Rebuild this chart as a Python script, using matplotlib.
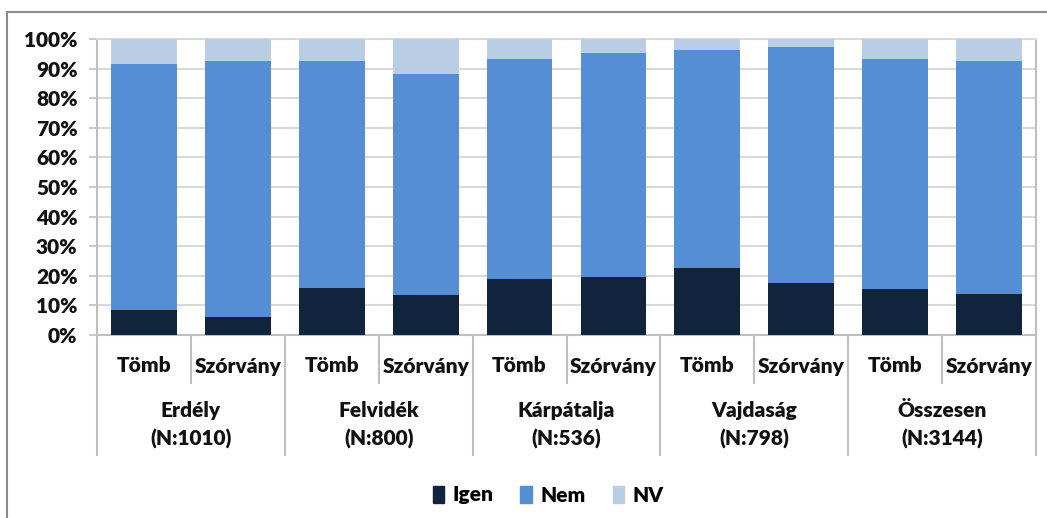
import matplotlib
matplotlib.use("Agg")
import matplotlib.pyplot as plt
from matplotlib.lines import Line2D
from matplotlib.patches import Patch
from matplotlib.ticker import PercentFormatter
import numpy as np

# values (percent)
sub_labels = ["Tömb", "Szórvány"] * 5
group_labels = ["Erdély\n(N:1010)", "Felvidék\n(N:800)", "Kárpátalja\n(N:536)",
                "Vajdaság\n(N:798)", "Összesen\n(N:3144)"]
igen = np.array([8.4, 6.0, 16.0, 13.5, 18.8, 19.7, 22.5, 17.4, 15.5, 13.8])
nem = np.array([83.2, 86.7, 76.7, 74.7, 74.3, 75.5, 73.8, 80.0, 77.8, 78.9])
nv = 100 - igen - nem

c_igen = "#10243e"
c_nem = "#558ed5"
c_nv = "#b9cde5"
grid_c = "#d9d9d9"
axis_c = "#bfbfbf"
fnt = "Lato"

plt.rcParams["font.family"] = [fnt, "DejaVu Sans"]
plt.rcParams["font.weight"] = "heavy"

fig = plt.figure(figsize=(10.47, 5.18), dpi=100)
ax = fig.add_axes([97 / 1047, 1 - 335 / 518, (1036 - 97) / 1047, (335 - 39) / 518])

x = np.arange(len(igen))
w = 0.70
ax.bar(x, igen, w, color=c_igen, label="Igen", zorder=3)
ax.bar(x, nem, w, bottom=igen, color=c_nem, label="Nem", zorder=3)
ax.bar(x, nv, w, bottom=igen + nem, color=c_nv, label="NV", zorder=3)

ax.set_xlim(-0.5, len(igen) - 0.5)
ax.set_ylim(0, 100)
ax.set_yticks(np.arange(0, 101, 10))
ax.yaxis.set_major_formatter(PercentFormatter(decimals=0))
ax.yaxis.grid(True, color=grid_c, lw=1.5, zorder=0)
ax.tick_params(axis="y", length=6, width=1.2, color=axis_c, labelsize=15, pad=8,
               labelcolor="#111111")
ax.set_xticks([])
for s in ["left", "right", "bottom"]:
    ax.spines[s].set_color(axis_c)
    ax.spines[s].set_linewidth(1.5)
ax.spines["top"].set_color(grid_c)
ax.spines["top"].set_linewidth(1.5)

# two-level category axis
tr = ax.get_xaxis_transform()
short_y = -(383 - 335) / 296
long_y = -(455 - 335) / 296
for k in range(len(igen) + 1):
    xb = k - 0.5
    yb = long_y if k % 2 == 0 else short_y
    ax.plot([xb, xb], [0, yb], transform=tr, color=axis_c, lw=1.5, clip_on=False)
for i, lab in enumerate(sub_labels):
    ax.text(i, -(366 - 335) / 296, lab, transform=tr, ha="center", va="center",
            fontsize=15, color="#111111")
for g, lab in enumerate(group_labels):
    ax.text(2 * g + 0.5, -(425 - 335) / 296, lab, transform=tr, ha="center",
            va="center", fontsize=15, color="#111111", linespacing=1.5)

handles = [Patch(color=c_igen), Patch(color=c_nem), Patch(color=c_nv)]
fig.legend(handles, ["Igen", "Nem", "NV"], loc="center", ncol=3,
           bbox_to_anchor=(548 / 1047, 1 - 495 / 518), frameon=False,
           fontsize=15, handlelength=0.55, handleheight=0.9, handletextpad=0.4,
           columnspacing=1.3)

# outer frame of the chart
fig.add_artist(Line2D([7 / 1047, 7 / 1047], [0, 1 - 12 / 518], color="#8c8c8c", lw=1.5))
fig.add_artist(Line2D([7 / 1047, 1], [1 - 12 / 518, 1 - 12 / 518], color="#8c8c8c", lw=1.5))

fig.savefig("out.png", dpi=100)
